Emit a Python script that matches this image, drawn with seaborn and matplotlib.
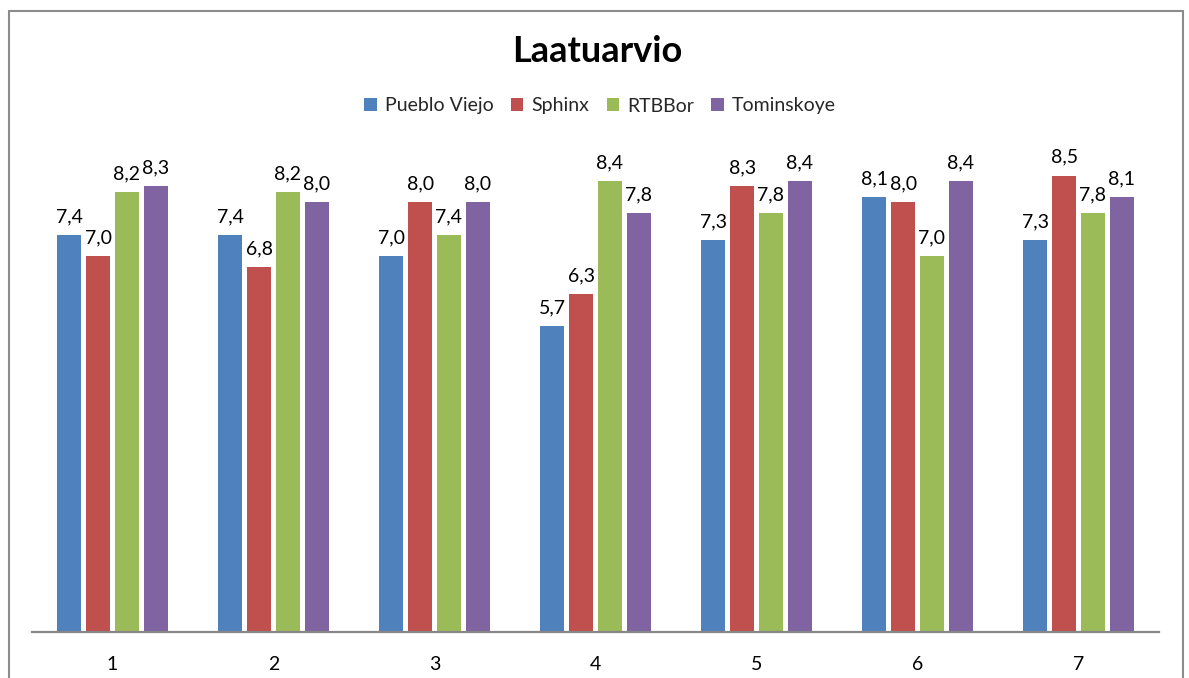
import matplotlib
matplotlib.use("Agg")
import matplotlib.pyplot as plt
import matplotlib.patches as mpatches
import seaborn as sns
import pandas as pd

categories = ["1", "2", "3", "4", "5", "6", "7"]
series_names = ["Pueblo Viejo", "Sphinx", "RTBBor", "Tominskoye"]
pueblo_viejo = [7.4, 7.4, 7.0, 5.7, 7.3, 8.1, 7.3]
sphinx = [7.0, 6.8, 8.0, 6.3, 8.3, 8.0, 8.5]
rtbbor = [8.2, 8.2, 7.4, 8.4, 7.8, 7.0, 7.8]
tominskoye = [8.3, 8.0, 8.0, 7.8, 8.4, 8.4, 8.1]
colors = ["#4F81BD", "#C0504D", "#9BBB59", "#8064A2"]
title = "Laatuarvio"

sns.set_theme(style="white")
plt.rcParams["font.family"] = ["Lato", "DejaVu Sans"]

rows = []
for name, vals in zip(series_names, [pueblo_viejo, sphinx, rtbbor, tominskoye]):
    for c, v in zip(categories, vals):
        rows.append({"cat": c, "series": name, "val": v})
df = pd.DataFrame(rows)

W, H = 1189, 678
fig = plt.figure(figsize=(W / 100, H / 100), dpi=100)
ax = fig.add_axes([32 / W, 1 - 632 / H, (1159 - 32) / W, (632 - 146) / H])

sns.barplot(data=df, x="cat", y="val", hue="series", order=categories,
            hue_order=series_names, palette=colors, width=0.714, gap=0.17,
            saturation=1, ax=ax, legend=False, linewidth=0)

for cont in ax.containers:
    ax.bar_label(cont, labels=[f"{b.get_height():.1f}".replace(".", ",") for b in cont],
                 padding=7, fontsize=14, color="#000000")

ax.set_xlim(-0.5, 6.5)
ax.set_ylim(0, 9.05)
ax.set_xlabel("")
ax.set_ylabel("")
ax.set_yticks([])
ax.tick_params(axis="x", length=0, pad=17, labelsize=14, labelcolor="#000000")
for s in ["top", "right", "left"]:
    ax.spines[s].set_visible(False)
ax.spines["bottom"].set_color("#868686")
ax.spines["bottom"].set_linewidth(1.6)
ax.set_facecolor("white")

fig.text(597 / W, 1 - 51 / H, title, ha="center", va="center",
         fontsize=26, fontweight="bold", color="#000000")

handles = [mpatches.Patch(facecolor=c, edgecolor="none", label=n)
           for c, n in zip(colors, series_names)]
fig.legend(handles=handles, loc="center", bbox_to_anchor=(600 / W, 1 - 106 / H),
           ncol=4, frameon=False, fontsize=14, handlelength=0.65, handleheight=0.65,
           handletextpad=0.4, columnspacing=0.9)

border = mpatches.Rectangle((9 / W, -0.05), (1183 - 9) / W, 1.05 - 11 / H,
                            transform=fig.transFigure, fill=False,
                            edgecolor="#8c8c8c", linewidth=1.5, clip_on=False)
fig.patches.append(border)

fig.savefig("out.png", dpi=100, facecolor="white")
